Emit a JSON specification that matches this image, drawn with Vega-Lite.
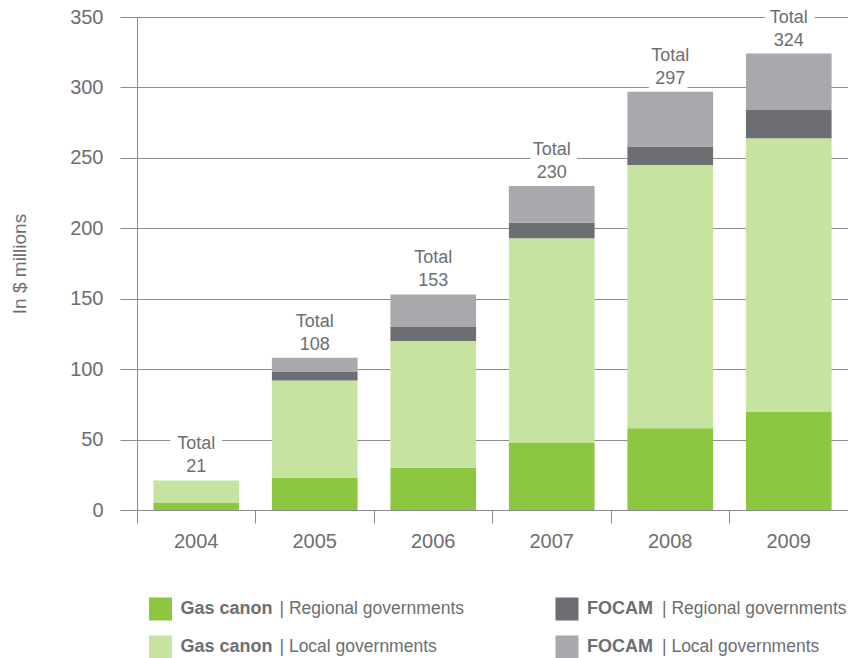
{
  "$schema": "https://vega.github.io/schema/vega-lite/v6.json",
  "autosize": {"type": "none"},
  "padding": {"left": 137, "top": 17, "right": 0, "bottom": 148},
  "width": 711,
  "height": 493,
  "config": {
    "font": "Liberation Sans",
    "view": {"stroke": null},
    "axis": {"labelFont": "Liberation Sans", "titleFont": "Liberation Sans"}
  },
  "datasets": {
    "bars": [
      {"year": "2004", "series": "Gas canon | Regional governments", "value": 5},
      {"year": "2004", "series": "Gas canon | Local governments", "value": 16},
      {"year": "2004", "series": "FOCAM | Regional governments", "value": 0},
      {"year": "2004", "series": "FOCAM | Local governments", "value": 0},
      {"year": "2005", "series": "Gas canon | Regional governments", "value": 23},
      {"year": "2005", "series": "Gas canon | Local governments", "value": 69},
      {"year": "2005", "series": "FOCAM | Regional governments", "value": 6},
      {"year": "2005", "series": "FOCAM | Local governments", "value": 10},
      {"year": "2006", "series": "Gas canon | Regional governments", "value": 30},
      {"year": "2006", "series": "Gas canon | Local governments", "value": 90},
      {"year": "2006", "series": "FOCAM | Regional governments", "value": 10},
      {"year": "2006", "series": "FOCAM | Local governments", "value": 23},
      {"year": "2007", "series": "Gas canon | Regional governments", "value": 48},
      {"year": "2007", "series": "Gas canon | Local governments", "value": 145},
      {"year": "2007", "series": "FOCAM | Regional governments", "value": 11},
      {"year": "2007", "series": "FOCAM | Local governments", "value": 26},
      {"year": "2008", "series": "Gas canon | Regional governments", "value": 58},
      {"year": "2008", "series": "Gas canon | Local governments", "value": 187},
      {"year": "2008", "series": "FOCAM | Regional governments", "value": 13},
      {"year": "2008", "series": "FOCAM | Local governments", "value": 39},
      {"year": "2009", "series": "Gas canon | Regional governments", "value": 70},
      {"year": "2009", "series": "Gas canon | Local governments", "value": 194},
      {"year": "2009", "series": "FOCAM | Regional governments", "value": 20},
      {"year": "2009", "series": "FOCAM | Local governments", "value": 40}
    ],
    "totals": [
      {"year": "2004", "total": 21},
      {"year": "2005", "total": 108},
      {"year": "2006", "total": 153},
      {"year": "2007", "total": 230},
      {"year": "2008", "total": 297},
      {"year": "2009", "total": 324}
    ],
    "legend": [
      {"series": "Gas canon | Regional governments", "source": "Gas canon", "level": "Regional governments", "rest": "| Regional governments"},
      {"series": "Gas canon | Local governments", "source": "Gas canon", "level": "Local governments", "rest": "| Local governments"},
      {"series": "FOCAM | Regional governments", "source": "FOCAM", "level": "Regional governments", "rest": "| Regional governments"},
      {"series": "FOCAM | Local governments", "source": "FOCAM", "level": "Local governments", "rest": "| Local governments"}
    ]
  },
  "layer": [
    {
      "encoding": {
        "x": {
          "field": "year", "type": "ordinal",
          "scale": {"paddingInner": 0, "paddingOuter": 0},
          "axis": {
            "title": null, "labelAngle": 0, "labelFontSize": 20, "labelColor": "#6d6e71",
            "labelPadding": 8, "tickSize": 13, "tickColor": "#8c8c8c", "domainColor": "#8c8c8c",
            "bandPosition": 0, "grid": false
          }
        }
      },
      "layer": [
        {
          "data": {"name": "totals"},
          "mark": {"type": "text", "text": "Total", "fontSize": 18, "baseline": "alphabetic", "dy": -31, "color": "white", "stroke": "white", "strokeWidth": 16, "strokeJoin": "round"},
          "encoding": {"y": {"field": "total", "type": "quantitative"}}
        },
        {
          "data": {"name": "totals"},
          "mark": {"type": "text", "fontSize": 18, "baseline": "alphabetic", "dy": -8, "color": "white", "stroke": "white", "strokeWidth": 16, "strokeJoin": "round"},
          "encoding": {
            "y": {"field": "total", "type": "quantitative"},
            "text": {"field": "total", "type": "quantitative"}
          }
        },
        {
          "data": {"name": "bars"},
          "mark": {"type": "bar", "width": {"band": 0.723}},
          "encoding": {
            "y": {
              "field": "value", "type": "quantitative", "stack": "zero",
              "scale": {"domain": [0, 350], "nice": false},
              "axis": {
                "title": "In $ millions", "titleFontSize": 19, "titleFontWeight": "normal", "titleColor": "#6d6e71",
                "titlePadding": 40, "values": [0, 50, 100, 150, 200, 250, 300, 350],
                "labelFontSize": 20, "labelColor": "#6d6e71", "labelPadding": 17, "tickSize": 17,
                "tickColor": "#8c8c8c", "domainColor": "#8c8c8c", "gridColor": "#8c8c8c", "grid": true
              }
            },
            "color": {
              "field": "series", "type": "nominal",
              "sort": ["Gas canon | Regional governments", "Gas canon | Local governments", "FOCAM | Regional governments", "FOCAM | Local governments"],
              "scale": {
                "domain": ["Gas canon | Regional governments", "Gas canon | Local governments", "FOCAM | Regional governments", "FOCAM | Local governments"],
                "range": ["#8dc63f", "#c7e3a0", "#6d6e71", "#a7a9ac"]
              },
              "legend": null
            }
          }
        },
        {
          "data": {"name": "totals"},
          "mark": {"type": "text", "text": "Total", "fontSize": 18, "baseline": "alphabetic", "dy": -31, "color": "#6d6e71"},
          "encoding": {"y": {"field": "total", "type": "quantitative"}}
        },
        {
          "data": {"name": "totals"},
          "mark": {"type": "text", "fontSize": 18, "baseline": "alphabetic", "dy": -8, "color": "#6d6e71"},
          "encoding": {
            "y": {"field": "total", "type": "quantitative"},
            "text": {"field": "total", "type": "quantitative"}
          }
        }
      ]
    },
    {
      "data": {"name": "legend"},
      "encoding": {
        "x": {"field": "source", "type": "nominal", "scale": {"type": "point", "padding": 0, "domain": ["Gas canon", "FOCAM"], "range": [23.5, 430]}, "axis": null},
        "y": {"field": "level", "type": "nominal", "scale": {"type": "point", "padding": 0, "domain": ["Regional governments", "Local governments"], "range": [592, 630]}, "axis": null}
      },
      "layer": [
        {
          "mark": {"type": "square", "size": 529, "filled": true, "opacity": 1},
          "encoding": {"color": {"field": "series", "type": "nominal", "legend": null}}
        },
        {
          "mark": {"type": "text", "align": "left", "baseline": "middle", "dx": 20, "fontSize": 18, "fontWeight": "bold", "color": "#6d6e71"},
          "encoding": {"text": {"field": "source"}}
        },
        {
          "transform": [{"filter": "datum.source == 'Gas canon'"}],
          "mark": {"type": "text", "align": "left", "baseline": "middle", "dx": 119, "fontSize": 17.5, "color": "#6d6e71"},
          "encoding": {"text": {"field": "rest"}}
        },
        {
          "transform": [{"filter": "datum.source == 'FOCAM'"}],
          "mark": {"type": "text", "align": "left", "baseline": "middle", "dx": 95, "fontSize": 17.5, "color": "#6d6e71"},
          "encoding": {"text": {"field": "rest"}}
        }
      ]
    }
  ],
  "resolve": {"scale": {"x": "independent", "y": "independent"}}
}
